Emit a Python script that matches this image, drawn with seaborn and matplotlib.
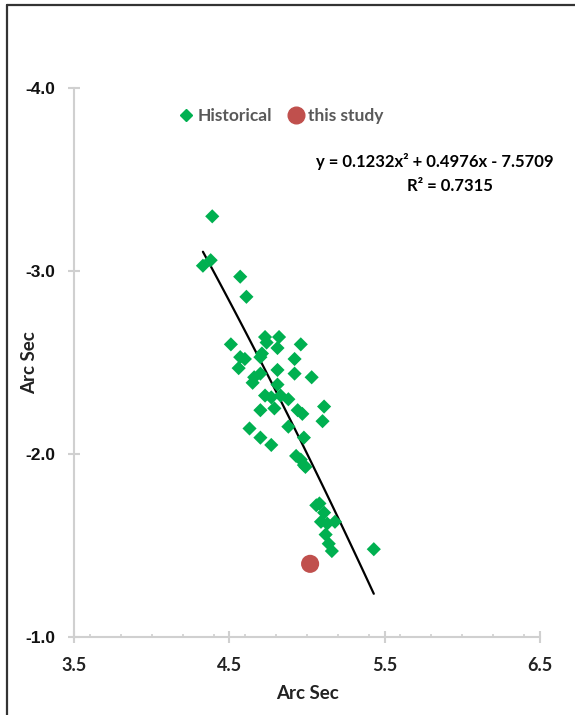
import numpy as np
import pandas as pd
import matplotlib
matplotlib.use("Agg")
import matplotlib.pyplot as plt
from matplotlib.lines import Line2D
from matplotlib.ticker import MultipleLocator, FixedLocator
import seaborn as sns

# ---------------- data ----------------
hist_x = [4.39, 4.33, 4.38, 4.57, 4.61, 4.73, 4.82, 4.74, 4.96, 4.51,
          4.81, 4.71, 4.57, 4.60, 4.70, 4.92, 4.56, 4.81, 4.70, 4.92,
          5.03, 4.66, 4.65, 4.81, 4.73, 4.83, 4.88, 4.77, 5.11, 4.70,
          4.79, 4.94, 4.97, 5.10, 4.63, 4.88, 4.70, 4.98, 4.77, 4.93,
          4.96, 4.98, 4.99, 5.06, 5.08, 5.11, 5.09, 5.13, 5.18, 5.12,
          5.14, 5.16, 5.43]
hist_y = [-3.30, -3.03, -3.06, -2.97, -2.86, -2.64, -2.64, -2.61, -2.60, -2.60,
          -2.58, -2.55, -2.53, -2.52, -2.53, -2.52, -2.47, -2.46, -2.44, -2.44,
          -2.42, -2.42, -2.39, -2.38, -2.32, -2.32, -2.30, -2.31, -2.26, -2.24,
          -2.25, -2.24, -2.22, -2.18, -2.14, -2.15, -2.09, -2.09, -2.05, -1.99,
          -1.97, -1.94, -1.93, -1.72, -1.73, -1.68, -1.63, -1.62, -1.63, -1.56,
          -1.51, -1.47, -1.48]
study_x = [5.02]
study_y = [-1.40]

# trendline (polynomial, order 2) as stated on chart
coef_a, coef_b, coef_c = 0.1232, 0.4976, -7.5709
r_squared = 0.7315

x_ticks = [3.5, 4.5, 5.5, 6.5]
x_tick_labels = ["3.5", "4.5", "5.5", "6.5"]
y_ticks = [-1.0, -2.0, -3.0, -4.0]
y_tick_labels = ["-1.0", "-2.0", "-3.0", "-4.0"]
x_label = "Arc Sec"
y_label = "Arc Sec"
legend_labels = ["Historical", "this study"]

# ---------------- style ----------------
sns.set_style("white")
plt.rcParams['font.family'] = ['Lato', 'DejaVu Sans']

GREEN = "#00B050"
RED = "#C0504D"
AXIS_GRAY = "#D0D0D0"

fig = plt.figure(figsize=(5.75, 7.15), dpi=100)
ax = fig.add_axes([74/575, 1-637/715, (540-74)/575, (637-88.3)/715])

hist_df = pd.DataFrame({"x": hist_x, "y": hist_y})
study_df = pd.DataFrame({"x": study_x, "y": study_y})
xs = np.linspace(min(hist_x), max(hist_x), 100)
trend_df = pd.DataFrame({"x": xs, "y": coef_a*xs**2 + coef_b*xs + coef_c})

sns.lineplot(data=trend_df, x="x", y="y", ax=ax, color="black", linewidth=1.6,
             zorder=2, legend=False)
sns.scatterplot(data=hist_df, x="x", y="y", ax=ax, marker="D", s=52,
                color=GREEN, edgecolor="none", linewidth=0, zorder=3, legend=False)
sns.scatterplot(data=study_df, x="x", y="y", ax=ax, marker="o", s=170,
                color=RED, edgecolor="none", linewidth=0, zorder=4, legend=False)

ax.set_xlim(3.5, 6.5)
ax.set_ylim(-1.0, -4.0)

ax.xaxis.set_major_locator(FixedLocator(x_ticks))
ax.set_xticklabels(x_tick_labels)
ax.xaxis.set_minor_locator(MultipleLocator(0.2))
ax.yaxis.set_major_locator(FixedLocator(y_ticks))
ax.set_yticklabels(y_tick_labels)

for s in ["top", "right"]:
    ax.spines[s].set_visible(False)
for s in ["left", "bottom"]:
    ax.spines[s].set_color(AXIS_GRAY)
    ax.spines[s].set_linewidth(1.5)

ax.tick_params(axis="both", which="major", direction="inout", length=9,
               width=1.5, color=AXIS_GRAY, bottom=True, left=True)
ax.tick_params(axis="x", which="minor", direction="in", length=2.5,
               width=1.2, color=AXIS_GRAY, bottom=True)
ax.tick_params(axis="x", which="major", pad=10)
ax.tick_params(axis="y", which="major", pad=9)

for lab in ax.get_xticklabels():
    lab.set_fontweight("bold"); lab.set_fontsize(13); lab.set_color("#222222")
for lab in ax.get_yticklabels():
    lab.set_family(["Liberation Sans", "DejaVu Sans"])
    lab.set_fontweight("bold"); lab.set_fontsize(12.5); lab.set_color("#111111")

ax.set_xlabel(x_label, fontsize=13.5, fontweight="bold", color="#222222", labelpad=8)
ax.set_ylabel(y_label, fontsize=13.5, fontweight="bold", color="#222222")
ax.yaxis.set_label_coords((38-74)/466, 0.5)

handles = [Line2D([], [], marker="D", color=GREEN, linestyle="none", markersize=6),
           Line2D([], [], marker="o", color=RED, linestyle="none", markersize=12)]
leg = ax.legend(handles, legend_labels, loc="center", bbox_to_anchor=(0.443, 0.949),
                ncol=2, frameon=False, handletextpad=0.15, columnspacing=0.9,
                handlelength=1.0, prop={"family": "Lato", "weight": "bold", "size": 12.5})
for t in leg.get_texts():
    t.set_color("#595959")

eq_text = f"y = {coef_a}x\u00b2 + {coef_b}x - {abs(coef_c)}"
ax.text(1.03, (637-161)/549, eq_text, transform=ax.transAxes, ha="right",
        va="center", fontsize=12, fontweight="bold", color="black", clip_on=False)
ax.text(0.899, (637-186)/549, f"R\u00b2 = {r_squared}", transform=ax.transAxes,
        ha="right", va="center", fontsize=12, fontweight="bold", color="black",
        clip_on=False)

# outer frame (cut off at right/bottom in the reference)
fig.add_artist(Line2D([7/575, 1.0], [1-5/715, 1-5/715], color="#333333", linewidth=1.6,
                      transform=fig.transFigure))
fig.add_artist(Line2D([7/575, 7/575], [1-5/715, 0.0], color="#333333", linewidth=1.6,
                      transform=fig.transFigure))

fig.savefig("out.png", dpi=100)
